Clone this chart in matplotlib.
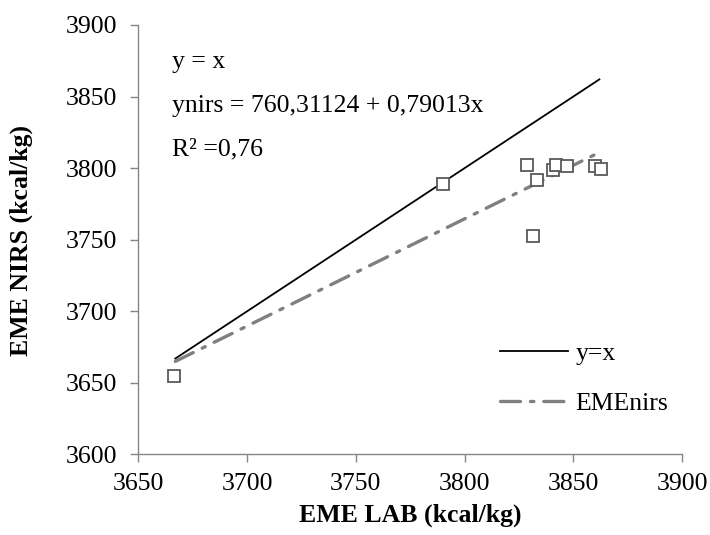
import matplotlib
matplotlib.use("Agg")
import matplotlib.pyplot as plt

plt.rcParams['font.family'] = ['Liberation Serif', 'DejaVu Serif']

# data
eme_lab = [3666.6, 3790.1, 3828.8, 3831.3, 3833.1, 3840.8, 3842.0, 3846.9, 3859.9, 3862.6]
eme_nirs = [3654.6, 3788.9, 3802.4, 3752.3, 3791.4, 3798.4, 3802.4, 3801.2, 3801.2, 3799.4]
ident_x = [3667, 3862]
trend_x = [3667, 3862]
trend_y = [3665, 3811]
x_ticks = [3650, 3700, 3750, 3800, 3850, 3900]
y_ticks = [3600, 3650, 3700, 3750, 3800, 3850, 3900]
notes = ["y = x", "ynirs = 760,31124 + 0,79013x", "R\u00b2 =0,76"]

fs = 18.5
grey = '#868686'

fig = plt.figure(figsize=(7.1, 5.35), dpi=100)
ax = fig.add_axes([0.1948, 0.1505, 0.7658, 0.8028])

ax.plot(ident_x, ident_x, color='black', lw=1.3, label='y=x', zorder=2)
ax.plot(trend_x, trend_y, color='#808080', lw=2.4, dashes=(6, 3, 1, 3),
        solid_capstyle='round', dash_capstyle='round', label='EMEnirs', zorder=3)
ax.plot(eme_lab, eme_nirs, ls='none', marker='s', ms=8.2, mfc='white', mec='#595959',
        mew=1.3, zorder=4)

ax.set_xlim(3650, 3900)
ax.set_ylim(3600, 3900)
ax.set_xticks(x_ticks)
ax.set_yticks(y_ticks)
for s in ['top', 'right']:
    ax.spines[s].set_visible(False)
for s in ['left', 'bottom']:
    ax.spines[s].set_color(grey)
    ax.spines[s].set_linewidth(1.0)
ax.tick_params(axis='both', direction='out', length=5.5, width=1.0, color=grey,
               labelsize=fs, labelcolor='black')
ax.tick_params(axis='y', pad=10)
ax.tick_params(axis='x', pad=8)

ax.set_xlabel('EME LAB (kcal/kg)', fontsize=fs, fontweight='bold', labelpad=6)
ax.set_ylabel('EME NIRS (kcal/kg)', fontsize=fs, fontweight='bold', va='center')
ax.yaxis.set_label_coords(0.03, 0.55, transform=fig.transFigure)

# equation text
ypos = [0.900, 0.797, 0.697]
for t, yy in zip(notes, ypos):
    ax.text(0.062, yy, t, transform=ax.transAxes, fontsize=fs, va='baseline', ha='left')

leg = ax.legend(loc='center left', bbox_to_anchor=(0.665, 0.177), frameon=False,
                fontsize=fs, handlelength=2.65, handletextpad=0.3, labelspacing=1.05,
                borderpad=0, borderaxespad=0)

fig.savefig('out.png', dpi=100)
